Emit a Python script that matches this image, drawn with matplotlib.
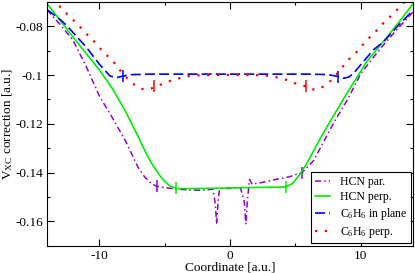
import numpy as np
import matplotlib.pyplot as plt

plt.rcParams['font.family'] = ['Liberation Serif', 'DejaVu Serif']
plt.rcParams['mathtext.fontset'] = 'custom'
plt.rcParams['mathtext.rm'] = 'Liberation Serif'
plt.rcParams['mathtext.it'] = 'Liberation Serif'
plt.rcParams['axes.unicode_minus'] = False

# HCN parallel (dash-dot, violet)
x_hcn_par = [-14, -13, -12, -11, -10, -9, -8, -7, -6.5, -6, -5.6, -5, -4, -3, -2, -1.3,
             -1.12, -1.02, -0.92, -0.8, 0, 0.8, 1.1, 1.22, 1.34, 1.5, 1.7, 2.5, 3.5, 4.5,
             5.5, 6.4, 7, 8, 9, 10, 11, 12, 13, 14]
y_hcn_par = [-0.0732, -0.0792, -0.0858, -0.0965, -0.1085, -0.1175, -0.1270, -0.1382, -0.1420,
             -0.1446, -0.1456, -0.1462, -0.1468, -0.1472, -0.1472, -0.1468,
             -0.1530, -0.1612, -0.1525, -0.1466, -0.1465, -0.1462, -0.1520, -0.1612, -0.1510,
             -0.1428, -0.1448, -0.1440, -0.1428, -0.1418,
             -0.1400, -0.1351, -0.1290, -0.1190, -0.1100, -0.0995, -0.0925, -0.0860, -0.0800, -0.0741]
tick_hcn_par = [10, 30]

# HCN perpendicular (solid, green)
x_hcn_perp = [-14, -13, -12, -11, -10, -9, -8, -7, -6.4, -6, -5.4, -5, -4.6, -4.13, -3, -2,
              -1, 0, 1, 2, 3, 3.8, 4.28, 4.8, 5.3, 5.87, 6.5, 7.4, 8, 8.93, 10, 10.46, 11,
              12, 13, 14]
y_hcn_perp = [-0.0707, -0.0775, -0.0845, -0.0912, -0.0978, -0.1055, -0.1148, -0.1255, -0.1322,
              -0.1362, -0.1410, -0.1436, -0.1455, -0.1465, -0.1466, -0.1465,
              -0.1464, -0.1463, -0.1462, -0.1461, -0.1460, -0.1460, -0.1458, -0.1445, -0.1410,
              -0.1364, -0.1300, -0.1214, -0.1160, -0.1076, -0.0985, -0.0945, -0.0910,
              -0.0845, -0.0778, -0.0708]
tick_hcn_perp = [13, 22]

# C6H6 in plane (dashed, blue)
x_c6h6_in = [-14, -13, -12.5, -12, -11, -10, -9.5, -9.2, -8.7, -8.2, -7.5, -6, -3, 0, 3, 6,
             7.5, 8.3, 8.7, 9.1, 9.5, 10.2, 11, 11.7, 13, 14]
y_c6h6_in = [-0.0731, -0.0772, -0.0796, -0.0826, -0.0885, -0.0955, -0.0985, -0.1003, -0.1011,
             -0.1004, -0.0998, -0.0996, -0.0996, -0.0996, -0.0996, -0.0996,
             -0.0998, -0.1006, -0.1013, -0.1008, -0.0990, -0.0945, -0.0895, -0.0866, -0.0789, -0.0735]
tick_c6h6_in = [9, 17]

# C6H6 perpendicular (dotted, red)
x_c6h6_perp = [-14, -13.27, -12.5, -11.7, -11, -10.5, -9.7, -9, -8.3, -7.65, -7, -6.5, -6,
               -5.8, -5.1, -4.5, -4, -3.3, -2.5, -1.5, 0, 1.5, 2.5, 3.3, 4, 4.5, 5.1, 5.8,
               6, 6.5, 7, 7.65, 8.3, 9, 9.7, 10.5, 11, 11.7, 12.5, 13.27, 14]
y_c6h6_perp = [-0.0668, -0.0704, -0.0748, -0.0789, -0.0830, -0.0855, -0.0905, -0.0940, -0.0988,
               -0.1026, -0.1052, -0.1060, -0.1055, -0.1046, -0.1036, -0.1022, -0.1015, -0.1005,
               -0.1001, -0.1000, -0.0999, -0.1000, -0.1001, -0.1005, -0.1015, -0.1022, -0.1036,
               -0.1046, -0.1055, -0.1060, -0.1052, -0.1026, -0.0988, -0.0940, -0.0905, -0.0855,
               -0.0830, -0.0789, -0.0748, -0.0704, -0.0668]
tick_c6h6_perp = [13, 27]

fig = plt.figure(figsize=(4.15, 2.73), dpi=100)
ax = fig.add_axes([0.1133, 0.1, 0.8817, 0.8927])

ax.plot(x_hcn_par, y_hcn_par, color='#9400d3', lw=1.1, linestyle=(0, (4, 2, 1, 2)),
        marker='|', markersize=8, markeredgewidth=1.1, markevery=tick_hcn_par, label='HCN par.')
ax.plot(x_hcn_perp, y_hcn_perp, color='#00ee00', lw=1.2,
        marker='|', markersize=8, markeredgewidth=1.1, markevery=tick_hcn_perp, label='HCN perp.')
ax.plot(x_c6h6_in, y_c6h6_in, color='#0000ff', lw=1.2, linestyle=(0, (6, 2.5)),
        marker='|', markersize=8, markeredgewidth=1.1, markevery=tick_c6h6_in,
        label='C$_6$H$_6$ in plane')
ax.plot(x_c6h6_perp, y_c6h6_perp, color='#ff0000', lw=1.6, linestyle=(0, (1, 3.4)),
        marker='|', markersize=8, markeredgewidth=1.1, markevery=tick_c6h6_perp,
        label='C$_6$H$_6$ perp.')

ax.set_xlim(-14, 14)
ax.set_ylim(-0.17, -0.07)
ax.set_xticks([-10, 0, 10])
ax.set_xticks([-5, 5], minor=True)
ax.set_yticks([-0.16, -0.14, -0.12, -0.1, -0.08])
ax.set_yticklabels(['-0.16', '-0.14', '-0.12', '-0.1', '-0.08'])
ax.set_yticks(np.arange(-0.17, -0.065, 0.01), minor=True)
ax.tick_params(which='both', direction='in', top=True, right=True, labelsize=9.5)
ax.tick_params(which='major', length=5, width=0.8, pad=3)
ax.tick_params(which='minor', length=2.5, width=0.8)

ax.set_xlabel('Coordinate [a.u.]', fontsize=9.5, labelpad=0)
ax.set_ylabel('V$_{\\mathrm{XC}}$ correction [a.u.]', fontsize=9.5, labelpad=0)

leg = ax.legend(loc='lower right', fontsize=8.5, handlelength=1.3, fancybox=False,
                framealpha=1, edgecolor='black', borderaxespad=0.2, labelspacing=0.25,
                handletextpad=0.8, borderpad=0.3)
leg.get_frame().set_linewidth(0.8)
for h in leg.get_lines():
    h.set_marker('None')

fig.savefig('out.png', dpi=100)
